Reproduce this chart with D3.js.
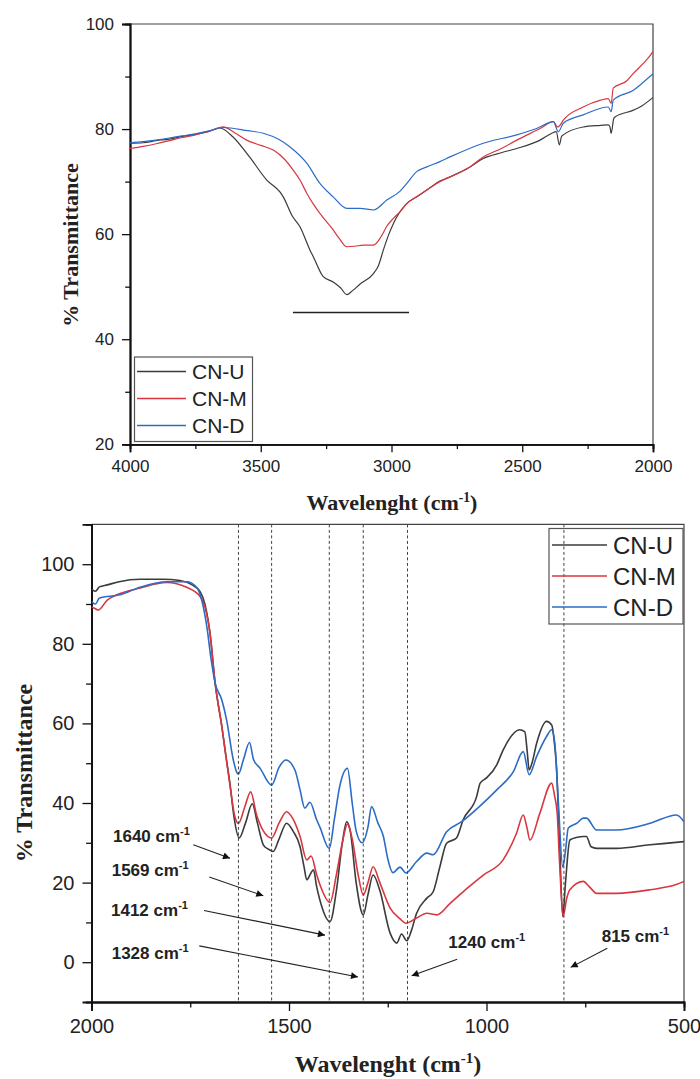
<!DOCTYPE html>
<html><head><meta charset="utf-8">
<script src="https://cdn.jsdelivr.net/npm/d3@7"></script>
<style>body{margin:0;background:#fff}svg{display:block}</style>
</head><body>
<svg id="c" width="700" height="1079"></svg>
<script>
// ---------------- DATA ----------------
const seriesNames = ["CN-U", "CN-M", "CN-D"];

// Top panel (4000-2000 cm-1)
const topXTicks = [4000, 3500, 3000, 2500, 2000];
const topXMinor = [3750, 3250, 2750, 2250];
const topYTicks = [20, 40, 60, 80, 100];
const topYMinor = [30, 50, 70, 90];
const topCNU = [[4000,77.3],[3950,77.4],[3900,77.8],[3850,78.1],[3800,78.6],[3750,79.0],[3700,79.5],[3656,80.2],[3606,78.5],[3540,74.5],[3477,70.3],[3426,68.0],[3414,67.1],[3380,63.5],[3350,61.4],[3312,57.0],[3299,55.7],[3261,51.9],[3223,50.9],[3195,49.8],[3171,48.5],[3150,49.2],[3120,50.5],[3069,52.5],[3050,54.0],[3031,57.0],[3010,60.0],[2993,62.0],[2942,65.8],[2900,67.2],[2865,68.4],[2815,70.1],[2776,70.9],[2700,72.8],[2649,74.4],[2580,75.5],[2521,76.3],[2432,77.9],[2387,79.2],[2370,79.5],[2358,77.0],[2350,78.6],[2343,78.9],[2267,80.4],[2200,80.7],[2171,80.8],[2165,80.5],[2160,79.2],[2150,82.0],[2145,82.3],[2075,83.6],[2040,84.5],[2005,85.8],[2000,86.0]];
const topCNM = [[4000,76.3],[3950,76.7],[3900,77.2],[3850,77.8],[3800,78.4],[3750,78.9],[3700,79.6],[3643,80.4],[3600,79.3],[3554,77.9],[3500,76.9],[3452,76.0],[3410,74.3],[3376,72.2],[3350,70.3],[3324,67.8],[3300,65.8],[3273,63.9],[3223,60.8],[3200,59.2],[3171,57.6],[3140,57.7],[3108,57.9],[3069,57.9],[3040,59.5],[3018,61.5],[2993,63.0],[2967,64.3],[2942,65.8],[2904,67.1],[2865,68.4],[2815,70.0],[2776,70.9],[2700,72.8],[2649,74.7],[2580,76.3],[2521,77.9],[2432,80.1],[2381,81.4],[2365,80.4],[2358,80.6],[2343,81.7],[2267,84.2],[2200,85.5],[2171,85.8],[2160,84.9],[2152,87.8],[2100,89.2],[2075,90.6],[2037,92.5],[2005,94.4],[2000,94.8]];
const topCND = [[4000,77.4],[3950,77.6],[3900,77.9],[3850,78.3],[3800,78.7],[3750,79.1],[3700,79.6],[3643,80.3],[3550,79.7],[3490,79.2],[3430,78.0],[3388,76.6],[3324,73.5],[3273,69.6],[3223,67.1],[3171,64.9],[3120,64.9],[3069,64.6],[3018,66.5],[2967,68.2],[2942,69.6],[2904,71.9],[2865,72.8],[2815,73.8],[2776,74.7],[2649,77.3],[2521,78.9],[2445,80.1],[2381,81.4],[2362,79.5],[2343,81.1],[2267,82.7],[2171,84.2],[2160,83.3],[2152,85.5],[2075,87.4],[2005,90.3],[2000,90.5]];
const topBand = [[3377,45.1],[2933,45.1]];

// Bottom panel (2000-500 cm-1)
const botXTicks = [2000, 1500, 1000, 500];
const botXMinor = [1750, 1250, 750];
const botYTicks = [0, 20, 40, 60, 80, 100];
const botYMinor = [10, 30, 50, 70, 90];
const botCNU = [[2000,93.7],[1990,93.2],[1980,94.3],[1960,94.8],[1930,95.6],[1877,96.2],[1820,96.2],[1776,95.9],[1745,94.8],[1725,93.1],[1713,90.0],[1705,86.0],[1700,82.7],[1687,70.1],[1670,59.2],[1660,52.0],[1649,44.5],[1640,37.0],[1626,31.2],[1610,35.0],[1593,39.8],[1580,35.0],[1565,29.5],[1554,28.5],[1540,27.8],[1525,31.0],[1506,34.9],[1490,33.0],[1472,29.0],[1462,24.0],[1455,20.7],[1444,22.5],[1438,23.2],[1430,19.0],[1422,15.7],[1396,10.2],[1380,18.0],[1365,30.0],[1354,35.3],[1345,33.0],[1330,20.0],[1312,11.9],[1300,17.0],[1287,21.9],[1270,18.0],[1244,7.3],[1227,4.8],[1215,7.1],[1202,5.4],[1190,8.0],[1177,12.3],[1151,16.1],[1135,17.7],[1118,24.0],[1101,29.9],[1076,31.2],[1059,35.8],[1025,41.6],[1016,45.0],[1000,46.3],[974,49.6],[958,53.3],[916,58.4],[903,57.9],[897,53.0],[892,48.3],[885,50.0],[873,55.0],[848,60.5],[835,59.6],[828,55.0],[823,49.2],[815,30.0],[807,11.5],[800,20.0],[789,30.7],[770,31.4],[755,31.6],[747,31.6],[735,29.0],[721,28.6],[671,28.6],[586,29.5],[520,30.1],[500,30.3]];
const botCNM = [[2000,89.3],[1990,88.8],[1983,88.5],[1960,91.0],[1936,92.3],[1877,94.0],[1810,95.4],[1759,94.2],[1725,91.9],[1713,89.3],[1700,82.7],[1687,70.1],[1670,59.2],[1649,44.1],[1638,37.0],[1628,34.9],[1612,39.0],[1597,42.8],[1582,37.0],[1565,33.0],[1544,31.2],[1525,35.0],[1506,37.8],[1490,36.0],[1472,31.6],[1455,25.7],[1444,26.7],[1430,22.0],[1420,19.0],[1396,15.0],[1380,22.0],[1365,30.0],[1352,34.7],[1340,31.0],[1325,22.0],[1312,16.9],[1300,20.0],[1287,24.0],[1270,20.0],[1244,13.6],[1220,11.0],[1204,9.8],[1177,11.1],[1151,12.3],[1126,11.9],[1092,14.8],[1050,18.5],[1008,21.9],[958,25.7],[924,32.4],[907,37.0],[898,34.0],[890,30.7],[865,37.4],[835,45.0],[828,42.0],[821,37.4],[815,25.0],[806,11.5],[797,16.0],[789,18.2],[755,20.3],[740,19.0],[721,17.3],[671,17.3],[586,18.2],[520,19.5],[500,20.3]];
const botCND = [[2000,90.6],[1990,90.0],[1980,91.5],[1928,92.3],[1877,94.2],[1810,95.6],[1759,95.6],[1734,94.2],[1721,91.0],[1708,84.3],[1697,76.0],[1687,70.1],[1670,65.9],[1658,60.9],[1641,50.8],[1631,47.5],[1628,47.3],[1615,51.0],[1600,55.2],[1590,51.0],[1573,48.7],[1544,44.5],[1525,49.0],[1508,50.8],[1485,48.3],[1472,43.3],[1460,38.7],[1447,40.2],[1430,35.8],[1422,34.0],[1398,28.6],[1385,36.0],[1372,44.0],[1352,48.7],[1340,40.0],[1330,33.0],[1315,30.0],[1300,34.0],[1291,39.1],[1275,35.0],[1261,31.6],[1250,26.0],[1237,22.5],[1219,23.9],[1204,22.4],[1177,25.3],[1151,27.4],[1135,27.0],[1101,32.8],[1063,35.3],[1016,39.3],[974,43.3],[932,47.9],[907,52.9],[892,47.1],[873,51.7],[848,56.7],[835,58.4],[827,55.0],[818,40.0],[807,23.9],[800,28.0],[793,33.7],[770,35.0],[755,36.2],[747,36.2],[721,33.2],[671,33.2],[586,34.9],[519,37.0],[500,35.3]];

// Reference lines and annotations (data coordinates)
const peakLines = [1628, 1544, 1398, 1312, 1200, 804];
const annLabels = ["1640", "1569", "1412", "1328", "1240", "815"];
const annText = [[1945.6,30.3],[1948.9,21.7],[1950.6,11.5],[1948.9,0.8],[1096.7,3.5],[708.4,5.2]];
const annFrom = [[1742.3,29.5],[1701.8,21.4],[1715.2,13.0],[1727.1,4.1],[1074.2,0.75],[694.2,3.5]];
const annTo = [[1649.4,26.1],[1565.1,16.7],[1408.9,6.8],[1325.3,-3.7],[1189.6,-3.4],[786.8,-1.3]];

// ---------------- DRAW ----------------
const colors = ["#3b3b3b", "#d8373f", "#2b6cc6"];
const svg = d3.select("#c");
svg.append("rect").attr("width",700).attr("height",1079).attr("fill","#fff");
const defs = svg.append("defs");
defs.append("marker").attr("id","ah").attr("viewBox","0 0 10 10").attr("refX",10).attr("refY",5)
  .attr("markerWidth",11).attr("markerHeight",7).attr("markerUnits","userSpaceOnUse").attr("orient","auto")
  .append("path").attr("d","M0,0 L10,5 L0,10 Z").attr("fill","#111");

const sans = "Arial, 'Liberation Sans', sans-serif";
const serif = "'Times New Roman', 'Liberation Serif', serif";

function panel(o) {
  const x = d3.scaleLinear().domain(o.xd).range(o.xr);
  const y = d3.scaleLinear().domain(o.yd).range(o.yr);
  const g = svg.append("g");
  // frame top/right
  g.append("path").attr("d",`M${o.xr[0]},${o.yr[1]} H${o.xr[1]} V${o.yr[0]}`).attr("fill","none").attr("stroke","#444").attr("stroke-width",1.2);
  // axes
  const ax = g.append("g").attr("transform",`translate(0,${o.yr[0]})`)
    .call(d3.axisBottom(x).tickValues(o.xt).tickSize(o.tl).tickPadding(o.tp).tickFormat(d3.format("d")));
  const ay = g.append("g").attr("transform",`translate(${o.xr[0]},0)`)
    .call(d3.axisLeft(y).tickValues(o.yt).tickSize(o.tl).tickPadding(o.tp).tickFormat(d3.format("d")));
  g.append("g").attr("transform",`translate(0,${o.yr[0]})`).call(d3.axisBottom(x).tickValues(o.xm).tickSize(o.tl*0.6).tickFormat(""));
  g.append("g").attr("transform",`translate(${o.xr[0]},0)`).call(d3.axisLeft(y).tickValues(o.ym).tickSize(o.tl*0.6).tickFormat(""));
  g.selectAll(".domain").attr("stroke","#111").attr("stroke-width",1.8);
  g.selectAll(".tick line").attr("stroke","#111").attr("stroke-width",1.3);
  g.selectAll(".tick text").attr("font-family",sans).attr("font-size",o.fs).attr("fill","#222");
  // clipped lines
  const clipId = "clip"+o.id;
  defs.append("clipPath").attr("id",clipId).append("rect")
    .attr("x",o.xr[0]).attr("y",o.yr[1]).attr("width",o.xr[1]-o.xr[0]).attr("height",o.yr[0]-o.yr[1]);
  const line = d3.line().x(d=>x(d[0])).y(d=>y(d[1])).curve(d3.curveMonotoneX);
  const lg = g.append("g").attr("clip-path",`url(#${clipId})`);
  o.series.forEach((s,i)=>{
    lg.append("path").datum(s).attr("d",line).attr("fill","none").attr("stroke",colors[i]).attr("stroke-width",o.lw).attr("stroke-linejoin","round");
  });
  return {x,y,g};
}

// Top panel
const T = panel({id:"t", xd:[4000,2000], xr:[130,653], yd:[20,100], yr:[444.3,24],
  xt:topXTicks, xm:topXMinor, yt:topYTicks, ym:topYMinor, tl:8, tp:8, fs:17, lw:1.2,
  series:[topCNU, topCNM, topCND]});
T.g.append("path").datum(topBand).attr("d",d3.line().x(d=>T.x(d[0])).y(d=>T.y(d[1])))
  .attr("stroke","#222").attr("stroke-width",1.6);
// top legend
const tl = T.g.append("g");
tl.append("rect").attr("x",134.5).attr("y",357).attr("width",118).attr("height",84.5).attr("fill","#fff").attr("stroke","#555").attr("stroke-width",1.2);
seriesNames.forEach((n,i)=>{
  const yy = 371.5 + i*27;
  tl.append("line").attr("x1",137).attr("x2",186).attr("y1",yy).attr("y2",yy).attr("stroke",colors[i]).attr("stroke-width",1.3);
  tl.append("text").attr("x",192).attr("y",yy+7.5).text(n).attr("font-family",sans).attr("font-size",21).attr("fill","#222");
});
// top axis titles
svg.append("text").attr("transform","translate(78,245) rotate(-90)").attr("text-anchor","middle")
  .attr("font-family",serif).attr("font-weight","bold").attr("font-size",22).attr("fill","#222").text("% Transmittance");
function xTitle(cx, cy, fs) {
  const t = svg.append("text").attr("x",cx).attr("y",cy).attr("text-anchor","middle")
    .attr("font-family",serif).attr("font-weight","bold").attr("font-size",fs).attr("fill","#222");
  t.append("tspan").text("Wavelenght (cm");
  t.append("tspan").attr("dy",-fs*0.38).attr("font-size",fs*0.62).text("-1");
  t.append("tspan").attr("dy",fs*0.38).text(")");
}
xTitle(392, 510, 22);

// Bottom panel
const B = panel({id:"b", xd:[2000,500], xr:[91.5,684], yd:[-10,110], yr:[1002,524.4],
  xt:botXTicks, xm:botXMinor, yt:botYTicks, ym:botYMinor, tl:9, tp:8, fs:20, lw:1.6,
  series:[botCNU, botCNM, botCND]});
// dashed peak lines
B.g.selectAll(".pk").data(peakLines).enter().append("line")
  .attr("x1",d=>B.x(d)).attr("x2",d=>B.x(d)).attr("y1",B.y(110)).attr("y2",B.y(-10))
  .attr("stroke","#444").attr("stroke-width",1).attr("stroke-dasharray","3,2.5");
// legend bottom
const bl = B.g.append("g");
bl.append("rect").attr("x",549).attr("y",528.5).attr("width",134).attr("height",95.5).attr("fill","none").attr("stroke","#555").attr("stroke-width",1.2);
seriesNames.forEach((n,i)=>{
  const yy = 545 + i*31;
  bl.append("line").attr("x1",552).attr("x2",607).attr("y1",yy).attr("y2",yy).attr("stroke",colors[i]).attr("stroke-width",1.5);
  bl.append("text").attr("x",613).attr("y",yy+8.5).text(n).attr("font-family",sans).attr("font-size",24).attr("fill","#222");
});
// annotations
annLabels.forEach((lab,i)=>{
  const t = B.g.append("text").attr("x",B.x(annText[i][0])).attr("y",B.y(annText[i][1]))
    .attr("font-family",sans).attr("font-weight","bold").attr("font-size",17).attr("fill","#222");
  t.append("tspan").text(lab+" cm");
  t.append("tspan").attr("dy",-7).attr("font-size",11).text("-1");
  B.g.append("line").attr("x1",B.x(annFrom[i][0])).attr("y1",B.y(annFrom[i][1]))
    .attr("x2",B.x(annTo[i][0])).attr("y2",B.y(annTo[i][1]))
    .attr("stroke","#222").attr("stroke-width",1.1).attr("marker-end","url(#ah)");
});
svg.append("text").attr("transform","translate(32,773) rotate(-90)").attr("text-anchor","middle")
  .attr("font-family",serif).attr("font-weight","bold").attr("font-size",24).attr("fill","#222").text("% Transmittance");
xTitle(388, 1072, 24);
</script>
</body></html>
